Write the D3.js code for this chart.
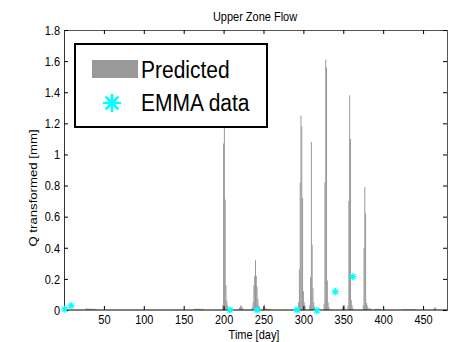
<!DOCTYPE html>
<html>
<head>
<meta charset="utf-8">
<script src="https://cdn.jsdelivr.net/npm/d3@7"></script>
<style>
  html, body { margin: 0; padding: 0; background: #fff; }
  svg { display: block; font-family: "Liberation Sans", Arial, Helvetica, sans-serif; }
</style>
</head>
<body>
<svg id="chart" width="450" height="342"></svg>
<script>
// Predicted upper-zone flow: days with non-zero flow and their values [mm]
const predDays = [
  2, 3, 4, 5, 6,
  28, 30, 32, 34, 36, 38, 40,
  164, 166, 168, 170, 172, 174,
  199, 200, 201, 202, 203, 204, 205, 206,
  220, 221, 222, 223, 224,
  236, 237, 238, 239, 240, 241, 242, 243, 244, 245,
  250, 251, 252, 254, 256, 258,
  294, 295, 296, 297, 298, 299, 300, 301, 302,
  308, 309, 310, 311, 312, 313, 314,
  326, 327, 328, 329, 330, 331, 332,
  349, 350, 351, 352,
  356, 357, 358, 359, 360, 361, 362,
  375, 376, 377, 378, 379, 380, 381, 383, 385,
  390, 392, 394, 396,
  425, 428, 431, 434, 437, 440,
  464, 465, 466
];
const predValues = [
  0.006, 0.006, 0.006, 0.005, 0.005,
  0.012, 0.010, 0.009, 0.009, 0.008, 0.008, 0.006,
  0.008, 0.008, 0.008, 0.008, 0.008, 0.007,
  0.03, 1.07, 1.23, 0.71, 0.16, 0.06, 0.03, 0.015,
  0.015, 0.025, 0.03, 0.02, 0.01,
  0.02, 0.05, 0.16, 0.22, 0.32, 0.22, 0.15, 0.07, 0.03, 0.02,
  0.02, 0.035, 0.015, 0.008, 0.008, 0.007,
  0.05, 0.26, 0.82, 1.25, 1.18, 0.72, 0.12, 0.05, 0.03,
  0.03, 0.21, 1.08, 0.42, 0.14, 0.05, 0.02,
  0.04, 0.82, 1.61, 1.56, 0.19, 0.05, 0.02,
  0.015, 0.03, 0.035, 0.015,
  0.03, 0.70, 1.38, 1.10, 0.064, 0.03, 0.01,
  0.03, 0.40, 0.79, 0.62, 0.045, 0.03, 0.015, 0.01, 0.008,
  0.008, 0.008, 0.008, 0.007,
  0.006, 0.006, 0.006, 0.006, 0.006, 0.006,
  0.012, 0.018, 0.01
];

// EMMA-derived flow estimates
const emmaDays = [1, 9, 208, 242, 292, 317, 340, 362];
const emmaValues = [0.005, 0.028, 0.0, 0.0, 0.0, -0.004, 0.118, 0.214];

// Axis ticks
const xTicks = [50, 100, 150, 200, 250, 300, 350, 400, 450];
const yTicks = [0, 0.2, 0.4, 0.6, 0.8, 1, 1.2, 1.4, 1.6, 1.8];

const titleText = "Upper Zone Flow";
const xLabelText = "Time [day]";
const yLabelText = "Q transformed [mm]";
const legendLabels = ["Predicted", "EMMA data"];

const svg = d3.select("#chart");
const plotL = 64, plotR = 447, plotT = 30, plotB = 310;
const vs = 1.2; // vertical stretch of the lettering

const x = d3.scaleLinear().domain([0, 480]).range([plotL, plotR]);
const y = d3.scaleLinear().domain([0, 1.8]).range([plotB, plotT]);

const barColor = "#999999";
const emmaColor = "#00ffff";

// bars
const barW = Math.max(1, x(1) - x(0));
svg.append("g").selectAll("rect")
  .data(predDays.map((d, i) => ({ day: d, v: predValues[i] })))
  .join("rect")
  .attr("x", d => x(d.day) - barW / 2)
  .attr("width", barW)
  .attr("y", d => y(d.v))
  .attr("height", d => y(0) - y(d.v))
  .attr("fill", barColor);

// asterisk marker path
function asterisk(r) {
  const a = r * Math.SQRT1_2;
  return `M${-r},0L${r},0M0,${-r}L0,${r}M${-a},${-a}L${a},${a}M${-a},${a}L${a},${-a}`;
}

// axes frame
const fmtY = d => String(+d.toFixed(1));
const xAxis = d3.axisBottom(x).tickValues(xTicks).tickSize(-4).tickFormat(d3.format("d"));
const xTop = d3.axisTop(x).tickValues(xTicks).tickSize(-4).tickFormat("");
const yAxis = d3.axisLeft(y).tickValues(yTicks).tickSize(-4).tickFormat(fmtY);
const yRight = d3.axisRight(y).tickValues(yTicks).tickSize(-4).tickFormat("");

const gx = svg.append("g").attr("transform", `translate(0,${plotB})`).call(xAxis);
const gTop = svg.append("g").attr("transform", `translate(0,${plotT})`).call(xTop);
const gy = svg.append("g").attr("transform", `translate(${plotL},0)`).call(yAxis);
const gRight = svg.append("g").attr("transform", `translate(${plotR},0)`).call(yRight);

svg.selectAll(".domain").attr("stroke", "#000").attr("stroke-width", 1);
svg.selectAll(".tick line").attr("stroke", "#000");
gTop.select(".domain").attr("stroke", "#555");
gRight.select(".domain").attr("stroke", "#555");
gy.select(".domain").attr("stroke", "#333");
gx.selectAll(".domain").attr("d", `M${plotL},0H${plotR}`);

gx.selectAll(".tick text")
  .attr("font-size", 11).attr("fill", "#000")
  .attr("dy", 0).attr("y", 14 / vs)
  .attr("transform", `scale(1,${vs})`);
gy.selectAll(".tick text")
  .attr("font-size", 11).attr("fill", "#000")
  .attr("x", -4)
  .attr("transform", `scale(1,${vs})`);
svg.selectAll("g").attr("font-family", null).attr("font-size", null);

// EMMA points (drawn over the axes)
svg.append("g").selectAll("path")
  .data(emmaDays.map((d, i) => ({ day: d, v: emmaValues[i] })))
  .join("path")
  .attr("transform", d => `translate(${x(d.day)},${y(d.v)})`)
  .attr("d", asterisk(3.6))
  .attr("stroke", emmaColor)
  .attr("stroke-width", 1.3)
  .attr("fill", "none");

// stretched text helper
function label(tx, ty, text, size, anchor) {
  svg.append("g").attr("transform", `translate(${tx},${ty}) scale(1,${vs})`)
    .append("text").attr("text-anchor", anchor).attr("font-size", size).attr("fill", "#000").text(text);
}
// the y label is stretched along its length (vertical on screen)
function yLabel(tx, ty, text, size) {
  svg.append("g").attr("transform", `translate(${tx},${ty}) scale(1,${vs}) rotate(-90)`)
    .append("text").attr("text-anchor", "middle").attr("font-size", size).attr("fill", "#000").text(text);
}

label(255, 21, titleText, 11, "middle");
label(254, 339, xLabelText, 11, "middle");
yLabel(37, 188, yLabelText, 11);

// legend
const lg = svg.append("g");
lg.append("rect").attr("x", 75).attr("y", 44).attr("width", 192).attr("height", 83)
  .attr("fill", "#fff").attr("stroke", "#000").attr("stroke-width", 2);
lg.append("rect").attr("x", 92).attr("y", 60).attr("width", 46).attr("height", 18).attr("fill", barColor);
lg.append("path").attr("transform", "translate(112,103)").attr("d", asterisk(9))
  .attr("stroke", emmaColor).attr("stroke-width", 2.6).attr("fill", "none");
lg.append("g").attr("transform", "translate(141,78) scale(1,1.1)")
  .append("text").attr("font-size", 21).attr("fill", "#000").text(legendLabels[0]);
lg.append("g").attr("transform", "translate(141,111) scale(1,1.1)")
  .append("text").attr("font-size", 21).attr("fill", "#000").text(legendLabels[1]);
</script>
</body>
</html>
